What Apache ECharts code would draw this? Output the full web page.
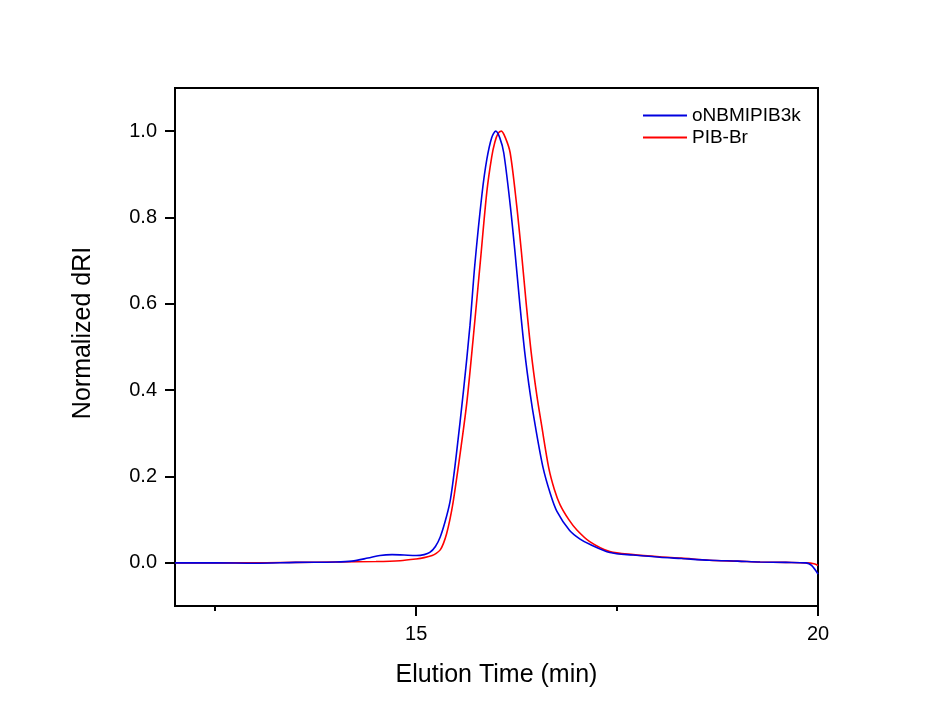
<!DOCTYPE html>
<html>
<head>
<meta charset="utf-8">
<script src="https://cdn.jsdelivr.net/npm/echarts@6/dist/echarts.min.js"></script>
<style>html,body{margin:0;padding:0;background:#fff;}#c{width:935px;height:719px;}</style>
</head>
<body>
<div id="c"></div>
<script>
// Elution time (min) and normalized dRI
const blueTime = [12.0,12.5,13.0,13.5,14.0,14.2,14.4,14.55,14.7,14.85,15.0,15.1,15.17,15.24,15.30,15.36,15.42,15.46,15.50,15.59,15.67,15.73,15.82,15.88,15.94,15.99,16.04,16.09,16.17,16.23,16.29,16.35,16.42,16.48,16.58,16.67,16.75,16.91,17.04,17.16,17.41,17.7,18.03,18.3,18.65,19.0,19.28,19.6,19.85,19.92,20.0];
const blueValue = [0.000,0.000,-0.001,0.001,0.002,0.004,0.011,0.017,0.019,0.018,0.017,0.019,0.024,0.038,0.06,0.095,0.14,0.19,0.25,0.40,0.55,0.69,0.855,0.935,0.985,1.0,0.985,0.95,0.83,0.72,0.60,0.49,0.39,0.32,0.22,0.16,0.12,0.075,0.055,0.043,0.024,0.018,0.013,0.010,0.006,0.004,0.002,0.001,0.000,-0.006,-0.026];
const redTime = [12.0,12.5,13.0,13.5,14.0,14.5,14.8,15.0,15.1,15.2,15.25,15.30,15.34,15.38,15.42,15.46,15.50,15.56,15.63,15.71,15.80,15.88,15.94,15.98,16.02,16.06,16.11,16.17,16.25,16.31,16.37,16.43,16.50,16.56,16.65,16.72,16.79,16.90,17.0,17.16,17.41,17.7,18.03,18.3,18.65,19.0,19.28,19.6,19.85,19.95,20.0];
const redValue = [0.000,0.000,0.000,0.001,0.002,0.003,0.005,0.009,0.012,0.017,0.022,0.03,0.045,0.068,0.10,0.14,0.19,0.27,0.37,0.52,0.70,0.86,0.94,0.975,0.995,1.0,0.985,0.95,0.83,0.72,0.60,0.49,0.39,0.32,0.22,0.17,0.135,0.10,0.076,0.049,0.026,0.019,0.014,0.011,0.006,0.004,0.002,0.001,0.000,-0.002,-0.006];
const seriesNames = ['oNBMIPIB3k','PIB-Br'];
const xMajorTicks = [15,20];
const xMinorTicks = [12.5,17.5];
const yTicks = [0.0,0.2,0.4,0.6,0.8,1.0];

const zip = (a,b) => a.map((t,i) => [t,b[i]]);
const FONT = 'Liberation Sans, Arial, sans-serif';
const LINE_ICON = 'path://M0,0H44V2H0Z';
const chart = echarts.init(document.getElementById('c'), null, {renderer:'canvas'});
const gridPos = {left:175, right:117, top:88, bottom:113};
chart.setOption({
  backgroundColor:'#ffffff',
  animation:false,
  grid:[
    Object.assign({show:true, borderColor:'#000', borderWidth:2, backgroundColor:'transparent', containLabel:false}, gridPos),
    Object.assign({show:false, containLabel:false}, gridPos)
  ],
  legend:{
    orient:'vertical', left:638, top:101, itemWidth:44, itemHeight:2, itemGap:3,
    textStyle:{fontFamily:FONT, fontSize:19, color:'#000'},
    data:seriesNames.map(n => ({name:n, icon:LINE_ICON}))
  },
  xAxis:[{
    type:'value', gridIndex:0, min:12, max:20, position:'bottom',
    name:'Elution Time (min)', nameLocation:'middle', nameGap:57,
    nameTextStyle:{fontFamily:FONT, fontSize:25, color:'#000'},
    axisLine:{show:true, onZero:false, lineStyle:{color:'#000', width:2}},
    axisTick:{show:true, inside:false, length:10, lineStyle:{color:'#000', width:2}, customValues:xMajorTicks},
    axisLabel:{show:true, margin:18, fontFamily:FONT, fontSize:20, color:'#000', customValues:xMajorTicks},
    splitLine:{show:false}
  },{
    type:'value', gridIndex:1, min:12, max:20, position:'bottom',
    axisLine:{show:false, onZero:false},
    axisTick:{show:true, inside:false, length:5, lineStyle:{color:'#000', width:2}, customValues:xMinorTicks},
    axisLabel:{show:false},
    splitLine:{show:false}
  }],
  yAxis:[{
    type:'value', gridIndex:0, min:-0.1, max:1.1, position:'left',
    name:'Normalized dRI', nameLocation:'middle', nameGap:79,
    nameTextStyle:{fontFamily:FONT, fontSize:25, color:'#000', padding:[0,0,0,28]},
    axisLine:{show:true, onZero:false, lineStyle:{color:'#000', width:2}},
    axisTick:{show:true, inside:false, length:10, lineStyle:{color:'#000', width:2}, customValues:yTicks},
    axisLabel:{show:true, margin:18, fontFamily:FONT, fontSize:20, color:'#000', customValues:yTicks,
      formatter:v => Number(v).toFixed(1)},
    splitLine:{show:false}
  },{
    type:'value', gridIndex:1, min:-0.1, max:1.1, show:false
  }],
  series:[{
    name:seriesNames[0], type:'line', xAxisIndex:0, yAxisIndex:0,
    data:zip(blueTime, blueValue), symbol:'none', smooth:0.3,
    lineStyle:{color:'#0000e0', width:1.6}, itemStyle:{color:'#0000e0'}, z:3
  },{
    name:seriesNames[1], type:'line', xAxisIndex:0, yAxisIndex:0,
    data:zip(redTime, redValue), symbol:'none', smooth:0.3,
    lineStyle:{color:'#ff0000', width:1.6}, itemStyle:{color:'#ff0000'}, z:2
  }]
});
</script>
</body>
</html>
